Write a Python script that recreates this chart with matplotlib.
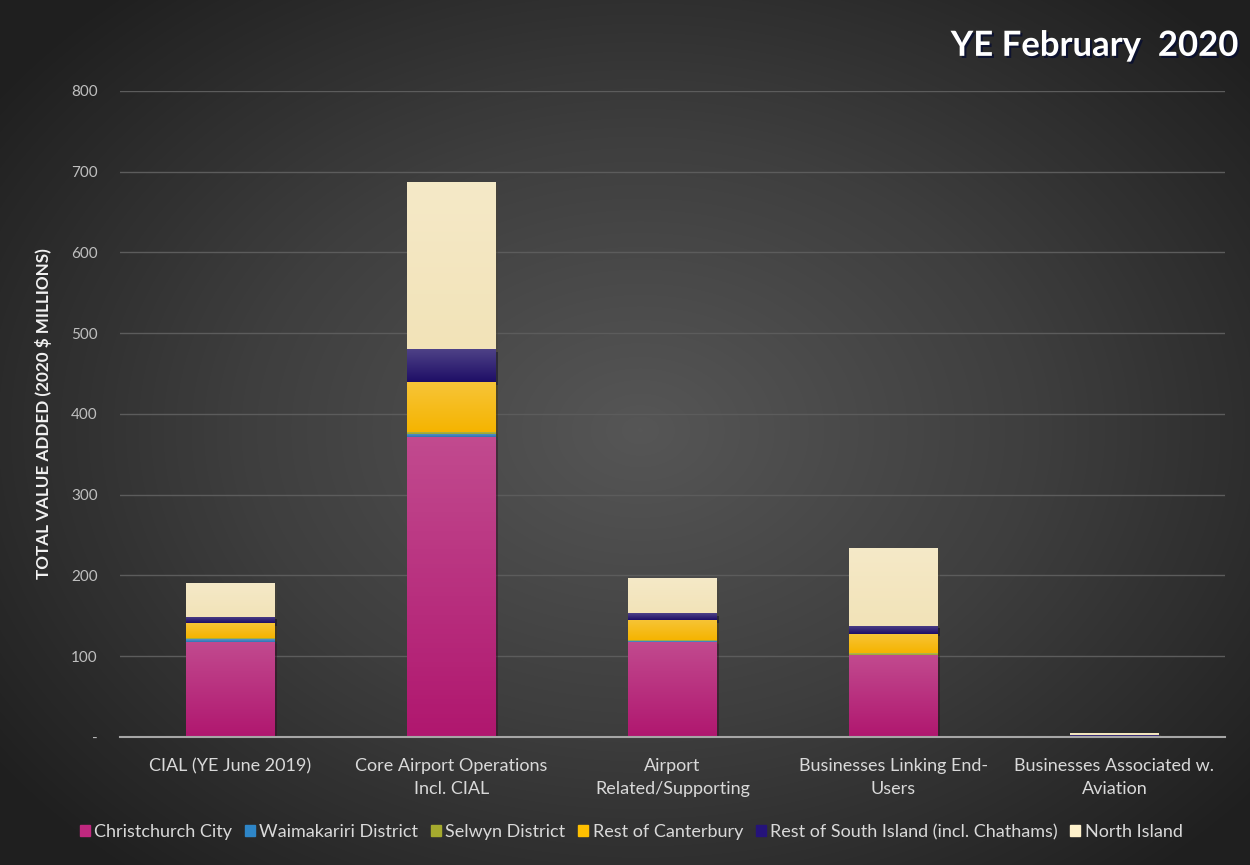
import numpy as np
import matplotlib.pyplot as plt
from matplotlib.colors import LinearSegmentedColormap, to_rgb
from matplotlib.ticker import FuncFormatter
from matplotlib import patheffects as pe

plt.rcParams['font.family'] = ['Lato', 'DejaVu Sans']

# value added by industry group and region (2020 $ millions)
categories = ["CIAL (YE June 2019)", "Core Airport Operations\nIncl. CIAL",
              "Airport\nRelated/Supporting", "Businesses Linking End-\nUsers",
              "Businesses Associated w.\nAviation"]
regions = ["Christchurch City", "Waimakariri District", "Selwyn District",
           "Rest of Canterbury", "Rest of South Island (incl. Chathams)", "North Island"]
christchurch = [118, 371, 118, 101, 0.6]
waimakariri = [3, 4, 1, 1, 0.1]
selwyn = [1, 3, 1, 2, 0.1]
rest_canterbury = [19, 61, 25, 24, 0.8]
rest_south_island = [8, 41, 8, 10, 0.4]
north_island = [42, 207, 44, 96, 3.5]
series = [christchurch, waimakariri, selwyn, rest_canterbury, rest_south_island, north_island]
colours = ["#B0176F", "#2E75B6", "#9DA52B", "#F5B400", "#1E0E66", "#F2E3B8"]
legend_colours = ["#C0287F", "#2E86C8", "#A5AA2E", "#FFC000", "#25137A", "#FFF2CC"]

fig = plt.figure(figsize=(12.5, 8.65), dpi=100)

# radial background, lighter in the middle
bg = fig.add_axes([0, 0, 1, 1], zorder=-10)
yy, xx = np.mgrid[0:865, 0:1250]
r = np.sqrt(((xx - 640) / 760.0) ** 2 + ((yy - 430) / 560.0) ** 2)
bg_cmap = LinearSegmentedColormap.from_list("bg", ["#565656", "#3e3e3e", "#1f1f1f"])
bg.imshow(r, cmap=bg_cmap, vmin=0, vmax=1.05, aspect='auto', interpolation='bilinear')
bg.axis('off')

ax = fig.add_axes([0.096, 0.148, 0.884, 0.747])
ax.patch.set_alpha(0)

x = np.arange(len(categories))
width = 0.4
bottom = np.zeros(len(categories))
grad = np.linspace(1, 0, 64).reshape(-1, 1)
for vals, col in zip(series, colours):
    vals = np.array(vals, dtype=float)
    bars = ax.bar(x, vals, width, bottom=bottom, color=col, zorder=3,
                  path_effects=[pe.SimplePatchShadow(offset=(2, -2), alpha=0.45), pe.Normal()])
    base = np.array(to_rgb(col))
    light = base + (1 - base) * 0.22
    cmap = LinearSegmentedColormap.from_list("g", [base, light])
    for b in bars:
        if b.get_height() <= 0:
            continue
        im = ax.imshow(grad, cmap=cmap, vmin=0, vmax=1, aspect='auto', zorder=4,
                       extent=[b.get_x(), b.get_x() + b.get_width(),
                               b.get_y(), b.get_y() + b.get_height()])
        im.set_clip_path(b)
    bottom += vals

ax.set_xlim(-0.5, len(categories) - 0.5)
ax.set_ylim(0, 800)
ax.set_yticks(np.arange(0, 801, 100))
ax.yaxis.set_major_formatter(FuncFormatter(lambda v, p: "-" if v == 0 else f"{int(v)}"))
ax.grid(axis='y', color='#5c5c5c', lw=1, zorder=0)
ax.set_axisbelow(True)
for s in ['top', 'right', 'left']:
    ax.spines[s].set_visible(False)
ax.spines['bottom'].set_color('#a6a6a6')
ax.spines['bottom'].set_linewidth(1.5)
ax.spines['bottom'].set_zorder(5)
ax.set_xticks(x)
ax.set_xticklabels(categories, fontsize=13, color='#d9d9d9', linespacing=1.55)
ax.tick_params(axis='x', length=0, pad=15)
ax.tick_params(axis='y', length=0, pad=16, labelsize=11, labelcolor='#bfbfbf')
ax.set_ylabel("TOTAL VALUE ADDED (2020 $ MILLIONS)", fontsize=12.3, fontweight='bold',
              color='#f2f2f2', labelpad=14)

fig.text(0.991, 0.947, "YE February  2020", ha='right', va='center', fontsize=25,
         fontweight='bold', color='white',
         path_effects=[pe.withSimplePatchShadow(offset=(1.5, -1.5), shadow_rgbFace='#0a1030', alpha=0.9)])

handles = [plt.Rectangle((0, 0), 1, 1, color=c) for c in legend_colours]
fig.legend(handles, regions, loc='center', bbox_to_anchor=(0.505, 0.038), ncol=6,
           frameon=False, fontsize=13, labelcolor='#d9d9d9', handlelength=0.55,
           handleheight=0.55, handletextpad=0.25, columnspacing=0.7)

fig.savefig("out.png", dpi=100)
